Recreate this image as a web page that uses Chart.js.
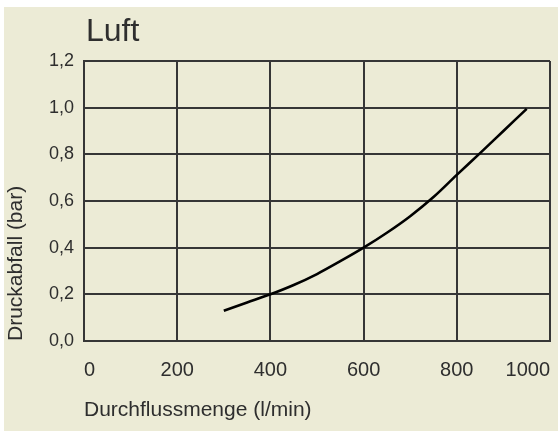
<!DOCTYPE html>
<html>
<head>
<meta charset="utf-8">
<script src="https://cdn.jsdelivr.net/npm/chart.js@4"></script>
<style>
  html, body { margin: 0; padding: 0; background: #fff; }
  #wrap { position: absolute; left: 4px; top: 7px; width: 554px; height: 424px; background: #ecebd6; }
</style>
</head>
<body>
<div id="wrap"><canvas id="chart" width="554" height="424"></canvas></div>
<script>
const chartTitle = 'Luft';
const xAxisTitle = 'Durchflussmenge (l/min)';
const yAxisTitle = 'Druckabfall (bar)';

// Durchfluss (l/min) and Druckabfall (bar)
const flowValues = [300, 350, 400, 450, 500, 550, 600, 650, 700, 750, 800, 850, 900, 950];
const dropValues = [0.13, 0.165, 0.2, 0.24, 0.287, 0.342, 0.4, 0.464, 0.535, 0.617, 0.712, 0.805, 0.9, 0.995];

const xTicks = [0, 200, 400, 600, 800, 1000];
const yTicks = [0, 0.2, 0.4, 0.6, 0.8, 1.0, 1.2];

const textColor = '#2e2e2e';
const gridColor = '#363636';

const titlePlugin = {
    id: 'luftTitle',
    afterDraw(chart) {
        const ctx = chart.ctx;
        ctx.save();
        ctx.fillStyle = textColor;
        ctx.font = '32px "Liberation Sans"';
        ctx.textBaseline = 'alphabetic';
        ctx.textAlign = 'left';
        ctx.fillText(chartTitle, chart.chartArea.left + 2, 34);
        ctx.restore();
    }
};

const ctx = document.getElementById('chart').getContext('2d');
new Chart(ctx, {
    type: 'line',
    data: {
        datasets: [{
            data: flowValues.map((x, i) => ({ x: x, y: dropValues[i] })),
            borderColor: '#000',
            borderWidth: 2.6,
            pointRadius: 0,
            cubicInterpolationMode: 'monotone',
            fill: false
        }]
    },
    options: {
        responsive: false,
        animation: false,
        layout: { padding: { left: 0, right: 8, top: 54, bottom: 0 } },
        plugins: {
            legend: { display: false },
            title: { display: false },
            tooltip: { enabled: false }
        },
        scales: {
            x: {
                type: 'linear',
                min: 0,
                max: 1000,
                afterBuildTicks: s => { s.ticks = xTicks.map(v => ({ value: v })); },
                afterFit: s => {
                    s.height = 90;
                    // labels are aligned inside, so no extra side room is needed
                    s.paddingLeft = 0;
                    s.paddingRight = 0;
                },
                grid: { color: gridColor, lineWidth: 2, drawTicks: false },
                border: { color: gridColor, width: 2 },
                ticks: {
                    align: 'inner',
                    padding: 17,
                    color: textColor,
                    font: { family: '"Liberation Sans"', size: 20 },
                    maxRotation: 0,
                    callback: v => String(v)
                },
                title: {
                    display: true,
                    text: xAxisTitle,
                    align: 'start',
                    color: textColor,
                    font: { family: '"Liberation Sans"', size: 21 },
                    padding: { top: 0, bottom: 8 }
                }
            },
            y: {
                min: 0,
                max: 1.2,
                afterBuildTicks: s => { s.ticks = yTicks.map(v => ({ value: v })); },
                afterFit: s => { s.width = 80; },
                grid: { color: gridColor, lineWidth: 2, drawTicks: false },
                border: { color: gridColor, width: 2 },
                ticks: {
                    padding: 10,
                    color: textColor,
                    font: { family: '"Liberation Sans"', size: 18 },
                    callback: v => v.toFixed(1).replace('.', ',')
                },
                title: {
                    display: true,
                    text: yAxisTitle,
                    align: 'start',
                    color: textColor,
                    font: { family: '"Liberation Sans"', size: 21 },
                    padding: { top: 0, bottom: 0 }
                }
            }
        }
    },
    plugins: [titlePlugin]
});
</script>
</body>
</html>
